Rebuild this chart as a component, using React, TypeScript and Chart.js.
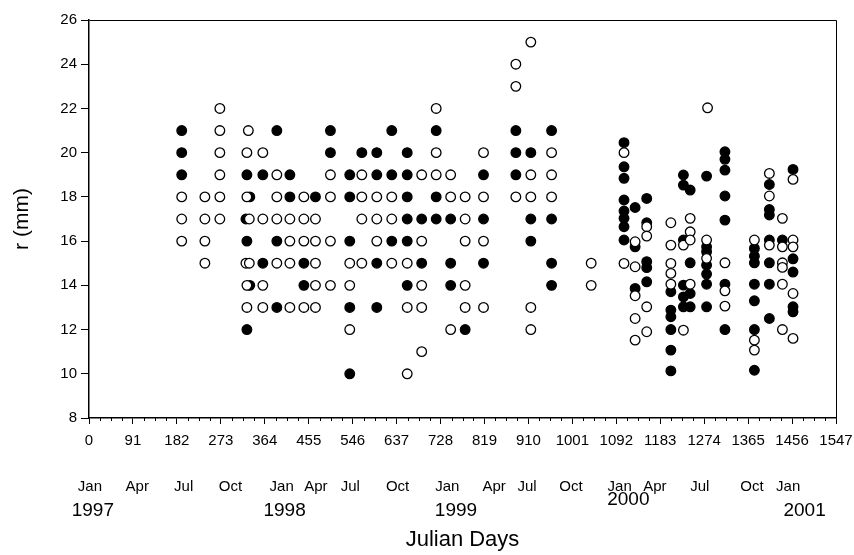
import React, { useEffect, useRef } from "react";
import { Chart, registerables } from "chart.js";

Chart.register(...registerables);

// Filled circles: Julian day and r (mm)
const filledDays = [
  192, 389, 500, 192, 500, 192, 327, 360, 416, 333, 416, 469, 325, 327, 389, 360, 445, 333, 445, 389, 327,
  627, 719, 565, 596, 659, 540, 596, 627, 659, 817, 540, 659, 719, 659, 689, 719, 749, 817, 540, 627, 659,
  596, 689, 749, 817, 659, 749, 540, 596, 779, 540,
  884, 958, 884, 915, 884, 915, 958, 915, 958, 958,
  1108, 1108, 1108, 1108, 1108, 1108, 1108, 1108,
  1131, 1131, 1131,
  1155, 1155, 1155, 1155, 1155,
  1205, 1205, 1205, 1205, 1205, 1205,
  1231, 1231, 1231, 1231, 1231, 1231,
  1245, 1245, 1245, 1245,
  1279, 1279, 1279, 1279, 1279, 1279, 1279,
  1317, 1317, 1317, 1317, 1317, 1317, 1317,
  1378, 1378, 1378, 1378, 1378, 1378, 1378,
  1409, 1409, 1409, 1409, 1409, 1409, 1409,
  1436,
  1458, 1458, 1458, 1458, 1458,
];
const filledR = [
  21, 21, 21, 20, 20, 19, 19, 19, 19, 18, 18, 18, 17, 16, 16, 15, 15, 14, 14, 13, 12,
  21, 21, 20, 20, 20, 19, 19, 19, 19, 19, 18, 18, 18, 17, 17, 17, 17, 17, 16, 16, 16,
  15, 15, 15, 15, 14, 14, 13, 13, 12, 10,
  21, 21, 20, 20, 19, 17, 17, 16, 15, 14,
  20.45, 19.36, 18.84, 17.86, 17.36, 17.03, 16.65, 16.05,
  17.52, 15.74, 13.86,
  17.93, 16.83, 15.07, 14.8, 14.16,
  13.71, 12.88, 12.58, 12.0, 11.07, 10.13,
  18.99, 18.53, 16.05, 14.01, 13.48, 13.03,
  18.31, 15.02, 13.63, 13.03,
  18.94, 15.74, 15.52, 14.91, 14.51, 14.05, 13.03,
  20.04, 19.7, 19.21, 18.04, 16.95, 14.05, 12.0,
  15.67, 15.32, 15.02, 14.05, 13.3, 12.0, 10.16,
  18.56, 17.43, 17.18, 16.05, 15.02, 14.05, 12.5,
  16.05,
  19.24, 15.2, 14.6, 13.03, 12.8,
];

// Open circles: Julian day and r (mm)
const openDays = [
  271, 271, 330, 271, 327, 360, 271, 389, 500,
  192, 240, 271, 327, 389, 445, 500,
  192, 240, 271, 332, 360, 389, 416, 445, 469,
  192, 240, 416, 445, 469, 500,
  240, 325, 332, 389, 416, 469,
  327, 360, 469, 500,
  327, 360, 416, 445, 469,
  719, 719, 817, 565, 689, 719, 749,
  565, 596, 627, 749, 779, 817,
  565, 596, 627, 779,
  596, 689, 779, 817,
  540, 565, 627, 659,
  540, 689, 779,
  659, 689, 779, 817,
  540, 749, 689, 659,
  915, 884, 884, 958, 915, 958, 884, 915, 958, 1040, 1040, 915, 915,
  1108, 1108,
  1131, 1131, 1131, 1131, 1131,
  1155, 1155, 1155, 1155,
  1205, 1205, 1205, 1205, 1205,
  1231, 1231,
  1245, 1245, 1245, 1245,
  1281, 1279, 1279,
  1317, 1317, 1317,
  1378, 1378, 1378,
  1409, 1409, 1409,
  1436, 1436, 1436, 1436, 1436, 1436,
  1458, 1458, 1458, 1458, 1458,
];
const openR = [
  22, 21, 21, 20, 20, 20, 19, 19, 19,
  18, 18, 18, 18, 18, 18, 18,
  17, 17, 17, 17, 17, 17, 17, 17, 17,
  16, 16, 16, 16, 16, 16,
  15, 15, 15, 15, 15, 15,
  14, 14, 14, 14,
  13, 13, 13, 13, 13,
  22, 20, 20, 19, 19, 19, 19,
  18, 18, 18, 18, 18, 18,
  17, 17, 17, 17,
  16, 16, 16, 16,
  15, 15, 15, 15,
  14, 14, 14,
  13, 13, 13, 13,
  12, 12, 11, 10,
  25, 24, 23, 20, 19, 19, 18, 18, 18, 15, 14, 13, 12,
  20.0, 14.99,
  15.97, 14.84, 13.53, 12.5, 11.52,
  16.65, 16.23, 13.03, 11.9,
  16.83, 15.82, 14.99, 14.54, 14.05,
  15.82, 11.97,
  17.03, 16.42, 16.05, 14.05,
  22.03, 16.05, 15.22,
  15.02, 13.75, 13.06,
  16.05, 11.52, 11.07,
  19.06, 18.04, 15.82,
  17.03, 15.74, 15.02, 14.81, 14.05, 12.0,
  18.79, 16.05, 15.74, 13.63, 11.6,
];

// Axis ranges and text
const xMin = 0;
const xMax = 1547;
const xStep = 91;
const xMinorPerMajor = 4;
const yMin = 8;
const yMax = 26;
const yStep = 2;
const monthLabels = ["Jan", "Apr", "Jul", "Oct", "Jan", "Apr", "Jul", "Oct", "Jan", "Apr", "Jul", "Oct", "Jan", "Apr", "Jul", "Oct", "Jan"];
const monthDays = [2, 100, 196, 293, 399, 470, 541, 639, 742, 839, 907, 998, 1099, 1172, 1265, 1373, 1448];
const yearLabels = ["1997", "1998", "1999", "2000", "2001"];
const yearDays = [8, 405, 760, 1117, 1482];
const yearRaised = [false, false, false, true, false];
const xTitle = "Julian Days";
const yTitle = "r (mm)";

const FONT = '"Liberation Sans", Arial, sans-serif';

const decorPlugin = {
  id: "decor",
  afterDraw(chart: any) {
    const { ctx, chartArea: ca, scales } = chart;
    const x = scales.x;
    ctx.save();
    ctx.strokeStyle = "#000";
    ctx.lineWidth = 1;
    ctx.beginPath();
    ctx.moveTo(Math.round(ca.left) + 0.5, Math.round(ca.top) + 0.5);
    ctx.lineTo(Math.round(ca.right) + 0.5, Math.round(ca.top) + 0.5);
    ctx.lineTo(Math.round(ca.right) + 0.5, Math.round(ca.bottom) + 0.5);
    ctx.stroke();
    const minorStep = xStep / xMinorPerMajor;
    ctx.beginPath();
    for (let i = 0; i * minorStep <= xMax + 0.001; i++) {
      if (i % xMinorPerMajor === 0) continue;
      const px = Math.round(x.getPixelForValue(i * minorStep)) + 0.5;
      ctx.moveTo(px, ca.bottom);
      ctx.lineTo(px, ca.bottom + 3);
    }
    ctx.stroke();
    ctx.fillStyle = "#000";
    ctx.textAlign = "center";
    ctx.textBaseline = "middle";
    ctx.font = `15px ${FONT}`;
    monthLabels.forEach((m, i) => {
      ctx.fillText(m, x.getPixelForValue(monthDays[i]), ca.bottom + 69);
    });
    ctx.font = `19px ${FONT}`;
    yearLabels.forEach((yl, i) => {
      ctx.fillText(yl, x.getPixelForValue(yearDays[i]), ca.bottom + (yearRaised[i] ? 82 : 93));
    });
    ctx.restore();
  },
};

export default function App() {
  const ref = useRef<HTMLCanvasElement>(null);
  useEffect(() => {
    document.body.style.margin = "0";
    const canvas = ref.current!;
    const chart = new Chart(canvas, {
      type: "scatter",
      data: {
        datasets: [
          {
            label: "open",
            data: openDays.map((d, i) => ({ x: d, y: openR[i] })),
            pointStyle: "circle",
            pointRadius: 4.8,
            pointBorderWidth: 1.3,
            pointBackgroundColor: "#fff",
            pointBorderColor: "#000",
            showLine: false,
          },
          {
            label: "filled",
            data: filledDays.map((d, i) => ({ x: d, y: filledR[i] })),
            pointStyle: "circle",
            pointRadius: 4.8,
            pointBorderWidth: 1.3,
            pointBackgroundColor: "#000",
            pointBorderColor: "#000",
            showLine: false,
          },
        ],
      },
      options: {
        animation: false,
        responsive: false,
        devicePixelRatio: 1,
        events: [],
        layout: { padding: { top: 20, right: 18, left: 0, bottom: 0 } },
        plugins: { legend: { display: false }, tooltip: { enabled: false } },
        scales: {
          x: {
            type: "linear",
            min: xMin,
            max: xMax,
            afterFit: (s: any) => { s.height = 137; s.paddingLeft = 0; s.paddingRight = 0; },
            afterBuildTicks: (s: any) => {
              const t = [];
              for (let v = xMin; v <= xMax; v += xStep) t.push({ value: v });
              s.ticks = t;
            },
            ticks: {
              autoSkip: false,
              maxRotation: 0,
              color: "#000",
              padding: 8,
              font: { family: FONT, size: 15 },
              callback: (v: any) => String(v),
            },
            grid: { drawOnChartArea: false, tickLength: 6, color: "#000", lineWidth: 1 },
            border: { display: true, color: "#000", width: 1.5 },
            title: { display: true, text: xTitle, color: "#000", font: { family: FONT, size: 22 }, padding: { top: 0, bottom: 2 } },
          },
          y: {
            type: "linear",
            min: yMin,
            max: yMax,
            afterFit: (s: any) => { s.width = 89; },
            ticks: { stepSize: yStep, color: "#000", padding: 4, font: { family: FONT, size: 15 } },
            grid: { drawOnChartArea: false, tickLength: 8, color: "#000", lineWidth: 1 },
            border: { display: true, color: "#000", width: 1.5 },
            title: { display: true, text: yTitle, color: "#000", font: { family: FONT, size: 21 }, padding: { top: 10, bottom: 0 } },
          },
        },
      },
      plugins: [decorPlugin],
    } as any);
    return () => chart.destroy();
  }, []);
  return (
    <div style={{ width: 854, height: 555 }}>
      <canvas ref={ref} width={854} height={555} style={{ display: "block" }} />
    </div>
  );
}
